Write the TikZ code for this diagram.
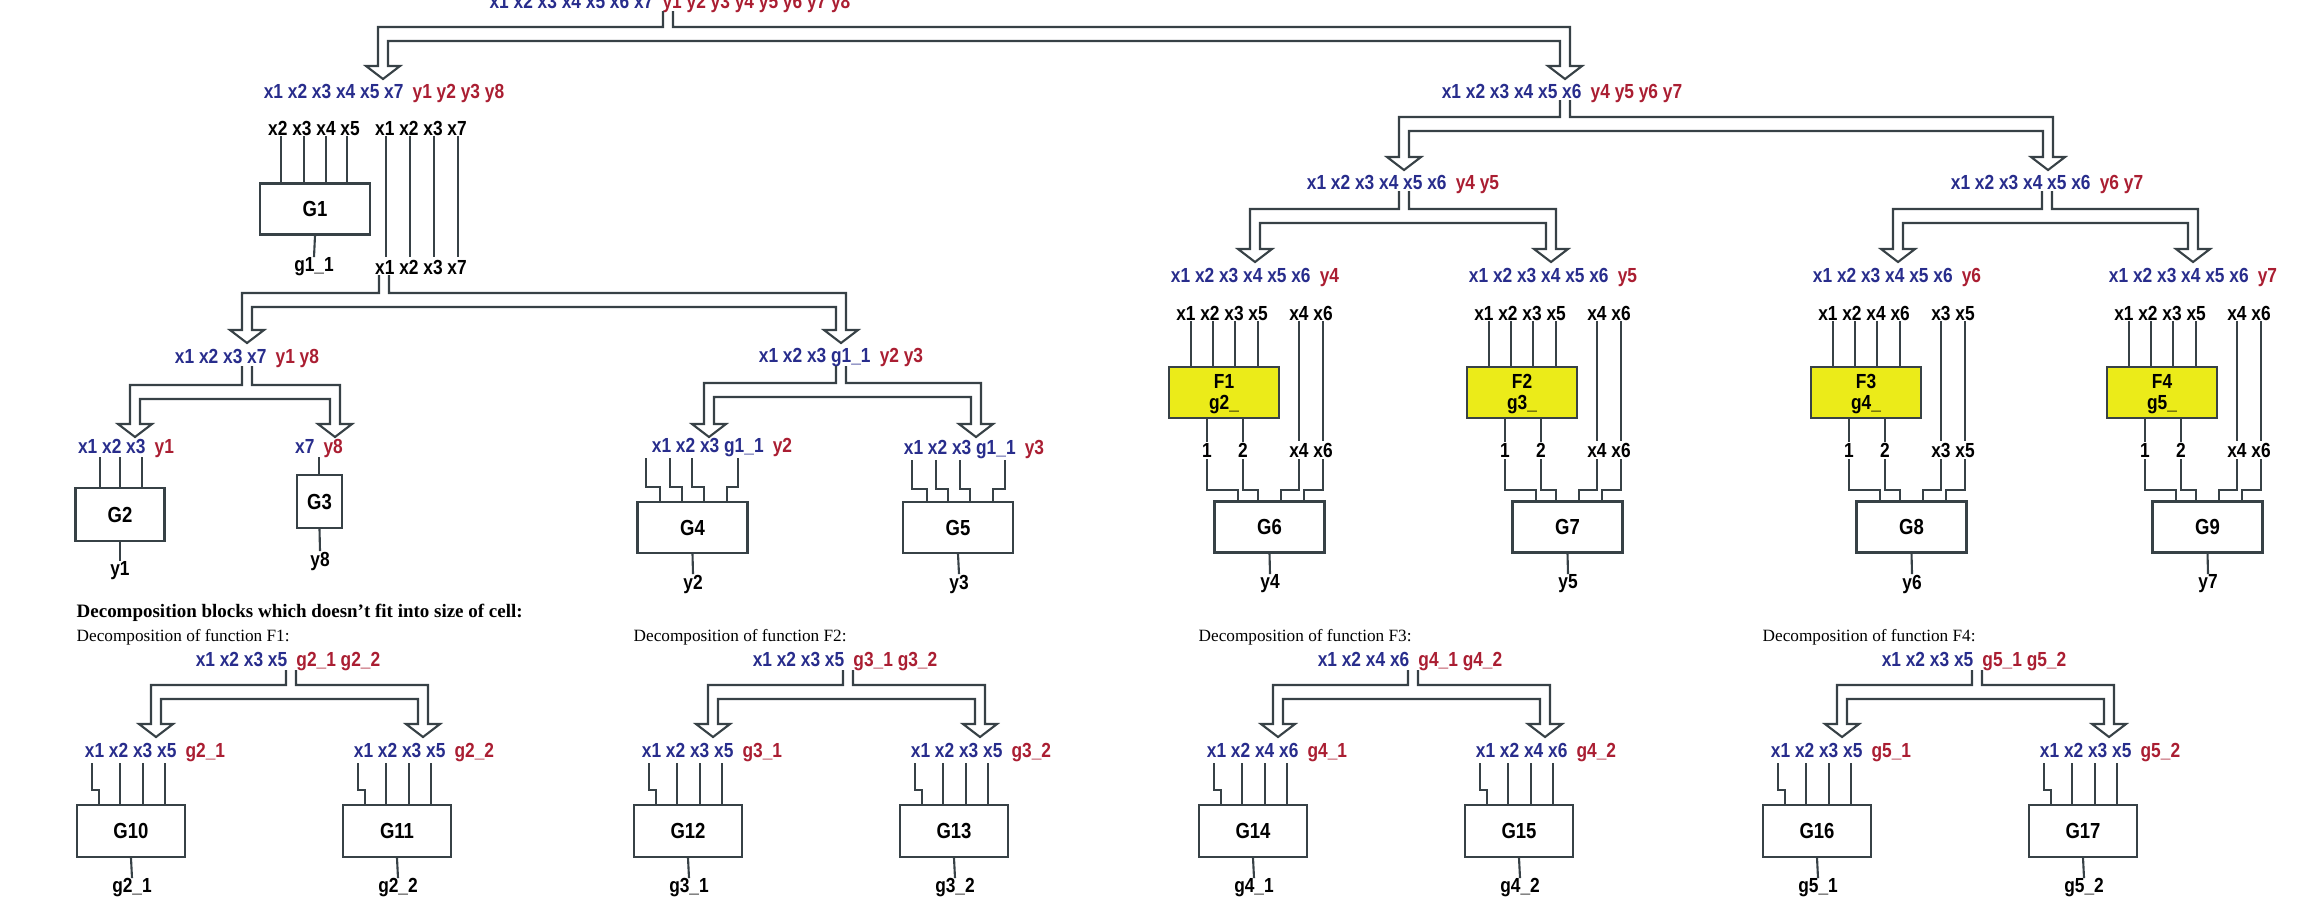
\documentclass[tikz,border=0pt]{standalone}
\usepackage{fontspec}
\setmainfont{Liberation Serif}
\newfontfamily\narrowsans[FakeStretch=0.85]{Liberation Sans}
\definecolor{xblue}{RGB}{40,45,140}
\definecolor{yred}{RGB}{170,30,50}
\definecolor{wirecol}{RGB}{55,65,70}
\definecolor{fyel}{RGB}{235,235,25}

\tikzset{
    lbl/.style={inner sep=0pt,font=\narrowsans\bfseries\fontsize{5.8}{6}\selectfont},
    wire/.style={draw=wirecol,line width=0.6pt},
    fork/.style={draw=wirecol,line width=0.6pt,line join=miter},
    gbox/.style={draw=wirecol,line width=0.6pt,fill=white,inner sep=0pt,
        minimum width=11mm,minimum height=5.1mm,font=\narrowsans\bfseries\fontsize{6.2}{7}\selectfont},
    dtext/.style={inner sep=0pt,anchor=west,font=\fontsize{4.9}{6}\selectfont}
}
\newcommand{\xy}[2]{\textcolor{xblue}{#1}\hspace{0.45em}\textcolor{yred}{#2}}
% stub x, stub top, line y, left x, right x, tip y
\newcommand{\forkarrow}[6]{%
    \draw[fork] (#1-5,#2) -- (#1-5,#3) -- (#4-5,#3) -- (#4-5,#6-13) -- (#4-17,#6-13)
        -- (#4,#6) -- (#4+17,#6-13) -- (#4+5,#6-13) -- (#4+5,#3+14) -- (#5-5,#3+14)
        -- (#5-5,#6-13) -- (#5-17,#6-13) -- (#5,#6) -- (#5+17,#6-13) -- (#5+5,#6-13)
        -- (#5+5,#3) -- (#1+5,#3) -- (#1+5,#2);}
% x top, y top, x bottom, y bottom, y jog
\newcommand{\wirejog}[5]{\draw[wire] (#1,#2) |- (#3,#5) -- (#3,#4);}
% X, F name, g name, group A, group B, G name, y name, id
\newcommand{\fblock}[8]{%
    \node[lbl] (lt#8) at (#1+86,277) {\xy{x1 x2 x3 x4 x5 x6}{#7}};
    \node[lbl] (ga#8) at (#1+53,313) {#4};
    \node[lbl] (gb#8) at (#1+142,313) {#5};
    \foreach \d in {22,44,66,89} \draw[wire] (#1+\d,321) -- (#1+\d,367);
    \foreach \d in {130,154} \draw[wire] (#1+\d,321) -- (#1+\d,441);
    \filldraw[fill=fyel,draw=wirecol,line width=0.6pt] (#1,367) rectangle (#1+110,418);
    \node[lbl] (fn#8) at (#1+55,381) {#2};
    \node[lbl] (fg#8) at (#1+55,405) {#3};
    \node[lbl] (o1#8) at (#1+38,450) {1};
    \node[lbl] (o2#8) at (#1+74,450) {2};
    \node[lbl] (gc#8) at (#1+142,450) {#5};
    \draw[wire] (#1+38,418) -- (o1#8.north);
    \draw[wire] (#1+74,418) -- (o2#8.north);
    \wirejog{#1+38}{459}{#1+69}{502}{490}
    \wirejog{#1+74}{459}{#1+89}{502}{490}
    \wirejog{#1+130}{459}{#1+112}{502}{490}
    \wirejog{#1+154}{459}{#1+135}{502}{490}
    \node[gbox] (G#8) at (#1+100.5,527) {#6};
    \node[lbl] (y#8) at (#1+101,584) {#7};
    \draw[wire] (G#8.south) -- (y#8.north);}
% G box left, G name, output name, id
\newcommand{\gcell}[4]{%
    \foreach \d in {43,66,88} \draw[wire] (#1+\d,763) -- (#1+\d,805);
    \wirejog{#1+15}{763}{#1+22}{805}{790}
    \node[gbox,minimum width=10.8mm,minimum height=5.2mm] (G#4) at (#1+54,831) {#2};
    \node[lbl] (o#4) at (#1+55,888) {#3};
    \draw[wire] (G#4.south) -- (o#4.north);}
% X, F number, inputs, out 1, out 2, G left, G right
\newcommand{\decomp}[7]{%
    \node[dtext] (dh#2) at (#1,637) {Decomposition of function F#2:};
    \node[lbl] (dp#2) at (#1+212,662) {\xy{#3}{#4 #5}};
    \forkarrow{#1+215}{670}{685}{#1+80}{#1+347}{737}
    \node[lbl] (dl#2) at (#1+79,753) {\xy{#3}{#4}};
    \node[lbl] (dr#2) at (#1+348,753) {\xy{#3}{#5}};
    \gcell{#1+1}{#6}{#4}{l#2}
    \gcell{#1+267}{#7}{#5}{r#2}}

\begin{document}
\begin{tikzpicture}[x=0.1mm,y=-0.1mm]
    \useasboundingbox (0,0) rectangle (2320,914);
    % top split
    \node[lbl] (top) at (670,3) {\xy{x1 x2 x3 x4 x5 x6 x7}{y1 y2 y3 y4 y5 y6 y7 y8}};
    \forkarrow{668}{11}{27}{383}{1565}{79}
    \node[lbl] (left1) at (384,93) {\xy{x1 x2 x3 x4 x5 x7}{y1 y2 y3 y8}};
    \node[lbl] (right1) at (1562,93) {\xy{x1 x2 x3 x4 x5 x6}{y4 y5 y6 y7}};
    % left half
    \node[lbl] (g1in) at (314,128) {x2 x3 x4 x5};
    \node[lbl] (passin) at (421,128) {x1 x2 x3 x7};
    \foreach \x in {281,304,326,347} \draw[wire] (\x,136) -- (\x,183);
    \foreach \x in {386,410,434,458} \draw[wire] (\x,136) -- (\x,257);
    \node[gbox] (G1) at (315,209) {G1};
    \node[lbl] (g1out) at (314,267) {g1\_1};
    \node[lbl] (passout) at (421,267) {x1 x2 x3 x7};
    \draw[wire] (G1.south) -- (g1out.north);
    \forkarrow{384}{275}{293}{247}{841}{343}
    \node[lbl] (left2) at (247,358) {\xy{x1 x2 x3 x7}{y1 y8}};
    \node[lbl] (mid2) at (841,358) {\xy{x1 x2 x3 g1\_1}{y2 y3}};
    \forkarrow{247}{366}{385}{135}{335}{437}
    \forkarrow{841}{366}{383}{709}{976}{437}
    \node[lbl] (inG2) at (126,448) {\xy{x1 x2 x3}{y1}};
    \node[lbl] (inG3) at (319,448) {\xy{x7}{y8}};
    \node[lbl] (inG4) at (722,448) {\xy{x1 x2 x3 g1\_1}{y2}};
    \node[lbl] (inG5) at (974,450) {\xy{x1 x2 x3 g1\_1}{y3}};
    \foreach \x in {100,120,142} \draw[wire] (\x,457) -- (\x,488);
    \node[gbox,minimum width=8.9mm,minimum height=5.3mm] (G2) at (120,514.5) {G2};
    \node[lbl] (y1) at (120,571) {y1};
    \draw[wire] (G2.south) -- (y1.north);
    \draw[wire] (319,457) -- (319,475);
    \node[gbox,minimum width=4.5mm,minimum height=5.3mm] (G3) at (319.5,501.5) {G3};
    \node[lbl] (y8) at (320,561) {y8};
    \draw[wire] (G3.south) -- (y8.north);
    \wirejog{646}{458}{660}{502}{487}
    \wirejog{670}{458}{682}{502}{487}
    \wirejog{692}{458}{704}{502}{487}
    \wirejog{738}{458}{727}{502}{487}
    \node[gbox] (G4) at (692.5,527.5) {G4};
    \node[lbl] (y2) at (693,584) {y2};
    \draw[wire] (G4.south) -- (y2.north);
    \wirejog{912}{460}{927}{502}{489}
    \wirejog{936}{460}{948}{502}{489}
    \wirejog{960}{460}{970}{502}{489}
    \wirejog{1005}{460}{993}{502}{489}
    \node[gbox] (G5) at (958,527.5) {G5};
    \node[lbl] (y3) at (959,584) {y3};
    \draw[wire] (G5.south) -- (y3.north);
    % right half
    \forkarrow{1565}{100}{117}{1404}{2048}{170}
    \node[lbl] (left3) at (1403,184) {\xy{x1 x2 x3 x4 x5 x6}{y4 y5}};
    \node[lbl] (right3) at (2047,184) {\xy{x1 x2 x3 x4 x5 x6}{y6 y7}};
    \forkarrow{1404}{191}{209}{1255}{1551}{262}
    \forkarrow{2047}{191}{209}{1898}{2193}{262}
    \fblock{1169}{F1}{g2\_}{x1 x2 x3 x5}{x4 x6}{G6}{y4}{a}
    \fblock{1467}{F2}{g3\_}{x1 x2 x3 x5}{x4 x6}{G7}{y5}{b}
    \fblock{1811}{F3}{g4\_}{x1 x2 x4 x6}{x3 x5}{G8}{y6}{c}
    \fblock{2107}{F4}{g5\_}{x1 x2 x3 x5}{x4 x6}{G9}{y7}{d}
    % decompositions
    \node[dtext,font=\bfseries\fontsize{5.4}{6}\selectfont] (head) at (76,613)
        {Decomposition blocks which doesn't fit into size of cell:};
    \decomp{76}{1}{x1 x2 x3 x5}{g2\_1}{g2\_2}{G10}{G11}
    \decomp{633}{2}{x1 x2 x3 x5}{g3\_1}{g3\_2}{G12}{G13}
    \decomp{1198}{3}{x1 x2 x4 x6}{g4\_1}{g4\_2}{G14}{G15}
    \decomp{1762}{4}{x1 x2 x3 x5}{g5\_1}{g5\_2}{G16}{G17}
\end{tikzpicture}
\end{document}
